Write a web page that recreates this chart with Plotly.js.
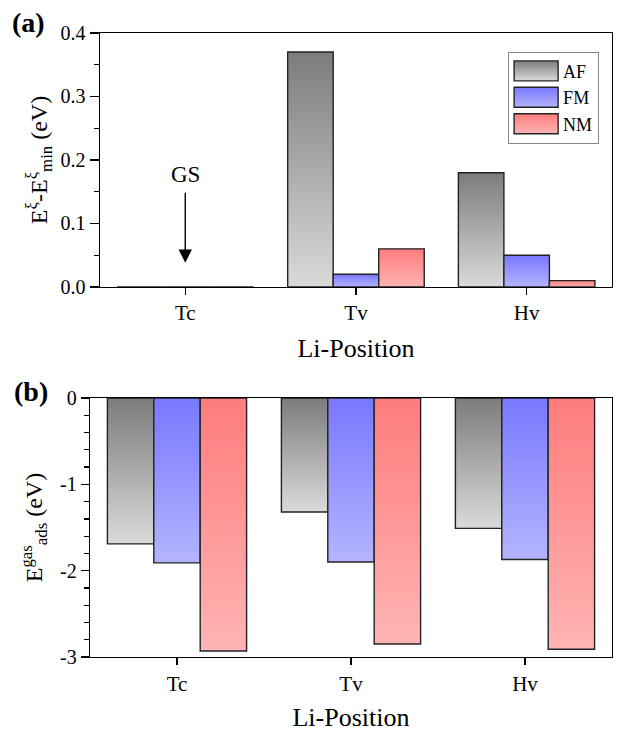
<!DOCTYPE html>
<html>
<head>
<meta charset="utf-8">
<script src="https://cdn.plot.ly/plotly-3.0.1.min.js"></script>
<style>html,body{margin:0;padding:0;background:#fff}#chart{width:620px;height:732px}</style>
</head>
<body>
<div id="chart"></div>
<script>
// ---- data ----
const categories = ['Tc', 'Tv', 'Hv'];
const seriesNames = ['AF', 'FM', 'NM'];
const relAF = [0, 0.37, 0.18];
const relFM = [0, 0.02, 0.05];
const relNM = [0, 0.06, 0.01];
const adsAF = [-1.69, -1.32, -1.51];
const adsFM = [-1.91, -1.90, -1.87];
const adsNM = [-2.93, -2.85, -2.91];
const adsTickVals = [0, -1, -2, -3];
const adsTickText = ['0', '-1', '-2', '-3'];

const baseColors = ['rgb(170, 170, 170)', 'rgb(153, 153, 255)', 'rgb(255, 153, 153)'];
const gradStops = {
  'rgb(170, 170, 170)': ['#7c7c7c', '#dadada'],
  'rgb(153, 153, 255)': ['#7878ff', '#b4b4ff'],
  'rgb(255, 153, 153)': ['#ff7c7c', '#ffb4b4']
};

const FONT = '"Liberation Serif", "Times New Roman", Times, serif';
const topVals = [relAF, relFM, relNM];
const botVals = [adsAF, adsFM, adsNM];

const data = [];
seriesNames.forEach((n, i) => {
  data.push({type: 'bar', name: n, x: categories, y: topVals[i], xaxis: 'x', yaxis: 'y',
    marker: {color: baseColors[i], line: {color: 'rgb(35,35,35)', width: 1.4}}, showlegend: true});
});
seriesNames.forEach((n, i) => {
  data.push({type: 'bar', name: n, x: categories, y: botVals[i], xaxis: 'x2', yaxis: 'y2',
    marker: {color: baseColors[i], line: {color: 'rgb(35,35,35)', width: 1.4}}, showlegend: false});
});

const axBase = {showline: true, linecolor: 'black', linewidth: 1.3, mirror: true, ticks: 'outside',
  tickcolor: 'black', tickwidth: 1.3, showgrid: false, zeroline: false, automargin: false};

const layout = {
  width: 620, height: 732,
  margin: {l: 90, r: 8, t: 33, b: 75},
  paper_bgcolor: 'white', plot_bgcolor: 'white',
  font: {family: FONT, color: 'black'},
  barmode: 'group', bargap: 0.2, bargroupgap: 0,
  showlegend: true,
  legend: {x: 0.801, y: 0.970, xanchor: 'left', yanchor: 'top', bgcolor: 'white',
    bordercolor: '#888', borderwidth: 1, font: {size: 18, family: FONT}, itemwidth: 44, tracegroupgap: 0},
  xaxis: Object.assign({}, axBase, {domain: [0.019, 1], anchor: 'y', type: 'category', range: [-0.5, 2.5],
    ticklen: 7, tickfont: {size: 21}, title: {text: 'Li-Position', font: {size: 26}, standoff: 14}}),
  yaxis: Object.assign({}, axBase, {domain: [0.593, 1], anchor: 'x', range: [0, 0.4], tick0: 0, dtick: 0.1,
    tickformat: '.1f', ticklen: 9, tickfont: {size: 20},
    minor: {tickmode: 'linear', tick0: 0, dtick: 0.05, ticks: 'outside', ticklen: 5, tickcolor: 'black', tickwidth: 1.3},
    title: {text: 'E<sup>ξ</sup>-E<sup>ξ</sup><sub>min</sub> (eV)', font: {size: 24}, standoff: 6}}),
  xaxis2: Object.assign({}, axBase, {domain: [0, 1], anchor: 'y2', type: 'category', range: [-0.5, 2.5],
    ticklen: 7, tickfont: {size: 21}, title: {text: 'Li-Position', font: {size: 26}, standoff: 14}}),
  yaxis2: Object.assign({}, axBase, {domain: [0, 0.415], anchor: 'x2', range: [-3, 0],
    tickmode: 'array', tickvals: adsTickVals, ticktext: adsTickText,
    ticklen: 8, tickfont: {size: 20},
    minor: {tickmode: 'linear', tick0: 0, dtick: 0.2, ticks: 'outside', ticklen: 5, tickcolor: 'black', tickwidth: 1.3},
    title: {text: 'E<sup>gas</sup><sub>ads</sub> (eV)', font: {size: 24}, standoff: 10}}),
  annotations: [
    {xref: 'paper', yref: 'paper', x: -0.153, y: 1.0176, xanchor: 'left', yanchor: 'middle',
      text: '<b>(a)</b>', showarrow: false, font: {size: 28}},
    {xref: 'paper', yref: 'paper', x: -0.149, y: 0.4247, xanchor: 'left', yanchor: 'middle',
      text: '<b>(b)</b>', showarrow: false, font: {size: 28}},
    {xref: 'x', yref: 'y', x: 'Tc', y: 0.038, text: 'GS', font: {size: 23},
      showarrow: true, ax: 0, ay: -88, arrowhead: 2, arrowsize: 1.9, arrowwidth: 1.4,
      arrowcolor: 'black', startstandoff: 4}
  ]
};

Plotly.newPlot('chart', data, layout, {staticPlot: true, displayModeBar: false}).then(gd => {
  const NS = 'http://www.w3.org/2000/svg';
  const svg = gd.querySelector('svg.main-svg');
  let defs = svg.querySelector('defs');
  if (!defs) { defs = document.createElementNS(NS, 'defs'); svg.insertBefore(defs, svg.firstChild); }
  const ids = {};
  Object.keys(gradStops).forEach((k, i) => {
    const g = document.createElementNS(NS, 'linearGradient');
    const id = 'barGrad' + i;
    g.setAttribute('id', id);
    g.setAttribute('x1', '0'); g.setAttribute('y1', '0');
    g.setAttribute('x2', '0'); g.setAttribute('y2', '1');
    [[0, gradStops[k][0]], [1, gradStops[k][1]]].forEach(([o, c]) => {
      const s = document.createElementNS(NS, 'stop');
      s.setAttribute('offset', o); s.setAttribute('stop-color', c);
      g.appendChild(s);
    });
    defs.appendChild(g);
    ids[k] = id;
  });
  gd.querySelectorAll('.bars path').forEach(p => {
    const id = ids[p.style.fill];
    if (id) p.style.fill = 'url(#' + id + ')';
  });
  gd.querySelectorAll('.legendpoints path').forEach(p => {
    const id = ids[p.style.fill];
    if (id) { p.style.fill = 'url(#' + id + ')'; p.setAttribute('d', 'M22,10H-22V-10H22Z'); }
  });
});
</script>
</body>
</html>
